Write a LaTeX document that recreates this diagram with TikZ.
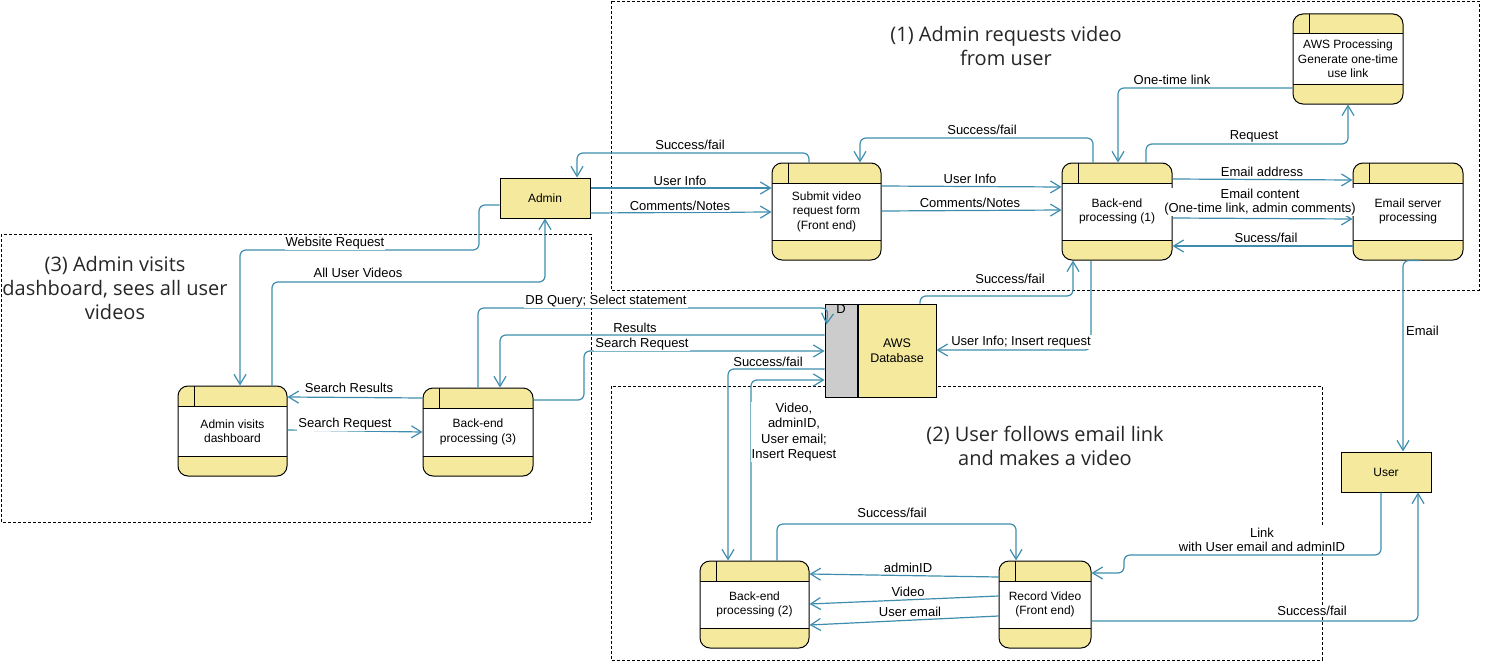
\documentclass[tikz,border=0pt]{standalone}
\usepackage{fontspec}
\setmainfont{Liberation Sans}
\newfontfamily\titlefont{Open Sans}
\usetikzlibrary{arrows.meta}

\definecolor{dfdyellow}{HTML}{F4E99C}
\definecolor{dfdgrey}{HTML}{CCCCCC}
\definecolor{flowblue}{HTML}{3E8DAE}

\tikzset{
	txt/.style={font=\fontsize{13}{14.5}\selectfont},
	boxtxt/.style={font=\fontsize{12}{14.5}\selectfont},
	proc/.style={draw, line width=1pt, rounded corners=10pt, fill=dfdyellow, boxtxt, align=center,
		inner sep=0pt, minimum width=109pt, minimum height=97pt,
		path picture={
			\fill[white, sharp corners] ([yshift=-20pt]path picture bounding box.north west) rectangle ([yshift=20pt]path picture bounding box.south east);
			\draw[line width=1pt, sharp corners] ([yshift=-20pt]path picture bounding box.north west) -- ([yshift=-20pt]path picture bounding box.north east);
			\draw[line width=1pt, sharp corners] ([yshift=20pt]path picture bounding box.south west) -- ([yshift=20pt]path picture bounding box.south east);
			\draw[line width=1pt, sharp corners] ([xshift=16pt]path picture bounding box.north west) -- ([xshift=16pt,yshift=-20pt]path picture bounding box.north west);
		}},
	entity/.style={draw, line width=1pt, fill=dfdyellow, boxtxt, minimum width=90pt, minimum height=40pt, inner sep=0pt},
	store/.style={draw, line width=1pt, fill=dfdyellow, font=\fontsize{12.5}{15}\selectfont, align=center, inner sep=0pt},
	storetab/.style={draw, line width=1pt, fill=dfdgrey, inner sep=0pt},
	flow/.style={draw=flowblue, line width=1.2pt, rounded corners=6pt, -{Straight Barb[length=10pt,width=12pt]}},
	lbl/.style={fill=white, inner sep=1pt, txt, align=center},
	groupbox/.style={line width=0.8pt, dash pattern=on 3pt off 2pt},
	title/.style={font=\titlefont\fontsize{20}{24}\selectfont, align=center, text=black!85}
}

\begin{document}
\begin{tikzpicture}[x=1pt,y=-1pt]
	\useasboundingbox (0,0) rectangle (1495,661);
	
	% dashed groups
	\draw[groupbox] (611,1) rectangle (1479,290);
	\draw[groupbox] (1,234) rectangle (591,522);
	\draw[groupbox] (611,386) rectangle (1322,660);
	
	% group titles
	\node[title] (t1) at (1006,46) {(1) Admin requests video\\from user};
	\node[title] (t2) at (1045,445.5) {(2) User follows email link\\and makes a video};
	\node[title] (t3) at (115,288) {(3) Admin visits\\dashboard, sees all user\\videos};
	
	% external entities
	\node[entity] (admin) at (545,198) {Admin};
	\node[entity] (user) at (1386,472) {User};
	
	% processes
	\node[proc] (submit) at (826.5,211.5) {Submit video\\request form\\(Front end)};
	\node[proc, minimum width=110pt] (be1) at (1117,211.5) {Back-end\\processing (1)};
	\node[proc, minimum width=110pt] (email) at (1408,211.5) {Email server\\processing};
	\node[proc, minimum width=110pt, minimum height=90pt] (awsp) at (1348,59) {AWS Processing\\Generate one-time\\use link};
	\node[proc, minimum height=90pt] (avd) at (232.5,431) {Admin visits\\dashboard};
	\node[proc, minimum width=110pt, minimum height=88pt] (be3) at (478,432) {Back-end\\processing (3)};
	\node[proc, minimum height=87pt] (be2) at (754.5,604.5) {Back-end\\processing (2)};
	\node[proc, minimum width=92pt, minimum height=87pt] (rv) at (1045,604.5) {Record Video\\(Front end)};
	
	% data store
	\node[store, minimum width=78pt, minimum height=93pt] (db) at (897,350.5) {AWS\\Database};
	\node[storetab, minimum width=32pt, minimum height=93pt, anchor=east,
		label={[anchor=north, inner sep=1pt, txt]north:D}] (dbtab) at (db.west) {};
	
	% (1) admin requests video
	\draw[flow] (809,0 |- submit.north) |- (577,153) -- (577,0 |- admin.north);
	\draw[flow] (admin.east |- 0,188) -- (submit.west |- 0,188);
	\draw[flow] (admin.east |- 0,213) -- (submit.west |- 0,212);
	\draw[flow] (submit.east |- 0,186) -- (be1.west |- 0,187);
	\draw[flow] (submit.east |- 0,211) -- (be1.west |- 0,210);
	\draw[flow] (1093,0 |- be1.north) |- (860,138) -- (860,0 |- submit.north);
	\draw[flow] (awsp.west |- 0,88) -| (1118,0 |- be1.north);
	\draw[flow] (1146,0 |- be1.north) |- (1348,144) -- (awsp.south);
	\draw[flow] (be1.east |- 0,179) -- (email.west |- 0,180);
	\draw[flow] (be1.east |- 0,218) -- (email.west |- 0,219);
	\draw[flow] (email.west |- 0,246) -- (be1.east |- 0,246);
	\draw[flow] (1420,0 |- email.south) -| (1403,0 |- user.north);
	\draw[flow] (1091,0 |- be1.south) |- (db.east |- 0,350);
	\draw[flow] (920,0 |- db.north) |- (1073,296) -- (1073,0 |- be1.south);
	
	% (2) user makes a video
	\draw[flow] (1381,0 |- user.south) |- (1124,555) |- (rv.east |- 0,573);
	\draw[flow] (rv.east |- 0,621) -| (1418,0 |- user.south);
	\draw[flow] (777,0 |- be2.north) |- (1016,524) -- (1016,0 |- rv.north);
	\draw[flow] (rv.west |- 0,577) -- (be2.east |- 0,574);
	\draw[flow] (rv.west |- 0,596) -- (be2.east |- 0,604);
	\draw[flow] (rv.west |- 0,616) -- (be2.east |- 0,625);
	\draw[flow] (751,0 |- be2.north) |- (dbtab.west |- 0,380);
	\draw[flow] (dbtab.west |- 0,369) -| (728,0 |- be2.north);
	
	% (3) admin dashboard
	\draw[flow] (478,0 |- be3.north) |- (828,308) -- ([xshift=2pt,yshift=-21pt]dbtab.north west);
	\draw[flow] (dbtab.west |- 0,335) -| (500,0 |- be3.north);
	\draw[flow] (be3.east |- 0,400) -| (584,351) -- (dbtab.west |- 0,351);
	\draw[flow] (admin.west |- 0,205) -| (479,250) -| (240,0 |- avd.north);
	\draw[flow] (272,0 |- avd.north) |- (545,282) -- (admin.south);
	\draw[flow] (be3.west |- 0,398) -- (avd.east |- 0,397);
	\draw[flow] (avd.east |- 0,430) -- (be3.west |- 0,432);
	
	% flow labels
	\node[lbl] (la) at (690,145) {Success/fail};
	\node[lbl] (lb) at (680,181) {User Info};
	\node[lbl] (lc) at (680,206) {Comments/Notes};
	\node[lbl] (ld) at (970,179) {User Info};
	\node[lbl] (le) at (970,203) {Comments/Notes};
	\node[lbl] (lf) at (982,130) {Success/fail};
	\node[lbl] (lg) at (1172,80) {One-time link};
	\node[lbl] (lh) at (1254,136) {Request};
	\node[lbl] (li) at (1262,172) {Email address};
	\node[lbl] (lj) at (1260,202) {Email content\\(One-time link, admin comments)};
	\node[lbl] (lk) at (1266,238) {Sucess/fail};
	\node[lbl, anchor=west] (ll) at (1405,331) {Email};
	\node[lbl] (lm) at (1262,540) {Link\\with User email and adminID};
	\node[lbl] (ln) at (1312,611) {Success/fail};
	\node[lbl] (lo) at (892,513) {Success/fail};
	\node[lbl] (lp) at (908,568) {adminID};
	\node[lbl] (lq) at (908,592) {Video};
	\node[lbl] (lr) at (910,612) {User email};
	\node[lbl, font=\fontsize{13}{15.5}\selectfont] (ls) at (794,432) {Video,\\adminID,\\User email;\\Insert Request};
	\node[lbl] (lt) at (768,362) {Success/fail};
	\node[lbl] (lu) at (606,301) {DB Query; Select statement};
	\node[lbl] (lv) at (635,328) {Results};
	\node[lbl] (lw) at (642,344) {Search Request};
	\node[lbl] (lx) at (1021,342) {User Info; Insert request};
	\node[lbl] (ly) at (1010,279) {Success/fail};
	\node[lbl] (lz) at (335,243) {Website Request};
	\node[lbl] (laa) at (358,273) {All User Videos};
	\node[lbl] (lbb) at (349,388) {Search Results};
	\node[lbl] (lcc) at (345,424) {Search Request};
	
\end{tikzpicture}
\end{document}
